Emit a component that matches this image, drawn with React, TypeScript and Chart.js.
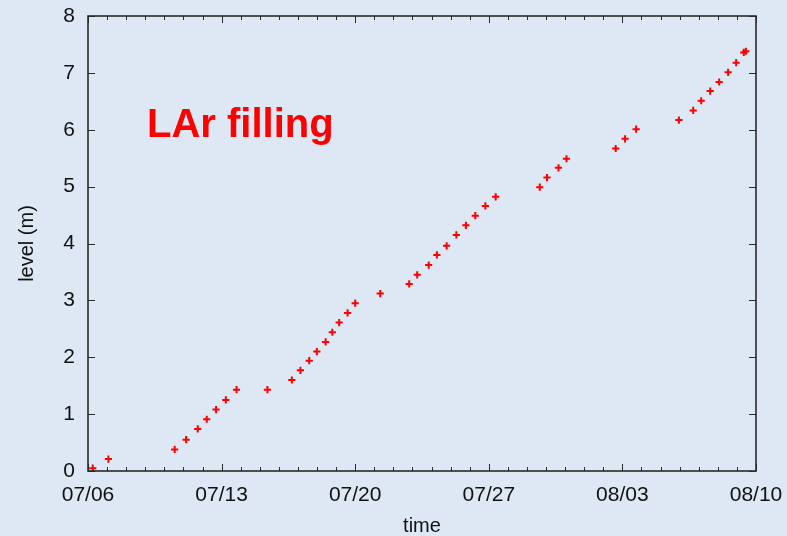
import React, { useEffect, useRef } from "react";
import { Chart, registerables } from "chart.js";

Chart.register(...registerables);

// Days elapsed since 07/06 00:00
const days = [0.25, 1.07, 4.54, 5.14, 5.75, 6.22, 6.71, 7.22, 7.78, 9.4, 10.68, 11.13, 11.59, 11.99, 12.45, 12.8, 13.16, 13.6, 14.0, 15.31, 16.83, 17.25, 17.85, 18.28, 18.79, 19.3, 19.8, 20.29, 20.82, 21.36, 23.67, 24.05, 24.65, 25.07, 27.65, 28.14, 28.72, 30.96, 31.71, 32.13, 32.6, 33.07, 33.54, 33.96, 34.36, 34.47];
// LAr level (m)
const levels = [0.05, 0.21, 0.38, 0.55, 0.74, 0.91, 1.08, 1.25, 1.43, 1.43, 1.6, 1.77, 1.94, 2.1, 2.27, 2.44, 2.61, 2.78, 2.95, 3.12, 3.29, 3.45, 3.62, 3.8, 3.96, 4.15, 4.32, 4.49, 4.66, 4.82, 4.99, 5.16, 5.33, 5.49, 5.67, 5.84, 6.01, 6.17, 6.34, 6.51, 6.68, 6.84, 7.01, 7.18, 7.36, 7.38];

const startDate = { year: 2000, month: 6, day: 6 }; // 07/06
const xMin = 0;
const xMax = 35;
const xMajorStep = 7;
const yMin = 0;
const yMax = 8;
const xTitle = "time";
const yTitle = "level (m)";
const annotationText = "LAr filling";

const BG = "rgb(221,232,244)";
const AXIS = "#2a2a2a";
const FONT = "'Liberation Sans', Arial, Helvetica, sans-serif";

function dayLabel(v: number): string {
  const d = new Date(startDate.year, startDate.month, startDate.day + v);
  const mm = String(d.getMonth() + 1).padStart(2, "0");
  const dd = String(d.getDate()).padStart(2, "0");
  return `${mm}/${dd}`;
}

const frameTicks = {
  id: "frameTicks",
  afterDraw(chart: any) {
    const { ctx, chartArea: a, scales } = chart;
    const xs = scales.x;
    const ys = scales.y;
    ctx.save();
    ctx.strokeStyle = AXIS;
    ctx.lineWidth = 1;
    for (let d = xMin; d <= xMax; d++) {
      const px = Math.round(xs.getPixelForValue(d)) + 0.5;
      const len = d % xMajorStep === 0 ? 7 : 4;
      ctx.beginPath();
      ctx.moveTo(px, a.bottom);
      ctx.lineTo(px, a.bottom - len);
      ctx.moveTo(px, a.top);
      ctx.lineTo(px, a.top + len);
      ctx.stroke();
    }
    for (let v = yMin; v <= yMax; v++) {
      const py = Math.round(ys.getPixelForValue(v)) + 0.5;
      ctx.beginPath();
      ctx.moveTo(a.left, py);
      ctx.lineTo(a.left + 7, py);
      ctx.moveTo(a.right, py);
      ctx.lineTo(a.right - 7, py);
      ctx.stroke();
    }
    ctx.lineWidth = 1.6;
    ctx.strokeRect(a.left, a.top, a.right - a.left, a.bottom - a.top);
    // annotation text
    ctx.fillStyle = "#ff0000";
    ctx.font = `bold 40px ${FONT}`;
    ctx.textBaseline = "alphabetic";
    ctx.textAlign = "left";
    ctx.fillText(annotationText, 147, 137);
    ctx.restore();
  },
};

export default function App() {
  const ref = useRef<HTMLCanvasElement | null>(null);
  useEffect(() => {
    if (!ref.current) return;
    const chart = new Chart(ref.current, {
      type: "scatter",
      data: {
        datasets: [
          {
            data: days.map((d, i) => ({ x: d, y: levels[i] })),
            pointStyle: "cross",
            pointRadius: 3.6,
            pointHoverRadius: 3.6,
            borderWidth: 2,
            borderColor: "#ff0000",
            backgroundColor: "#ff0000",
            clip: false as any,
          },
        ],
      },
      options: {
        animation: false,
        responsive: true,
        maintainAspectRatio: false,
        events: [],
        layout: { padding: { top: 16, right: 31, left: 0, bottom: 0 } },
        plugins: { legend: { display: false }, tooltip: { enabled: false } },
        scales: {
          x: {
            type: "linear",
            min: xMin,
            max: xMax,
            grid: { display: false, drawTicks: false },
            border: { display: false },
            ticks: {
              stepSize: xMajorStep,
              padding: 12,
              maxRotation: 0,
              autoSkip: false,
              color: "#111",
              font: { family: FONT, size: 21 },
              callback: (v: any) => dayLabel(Number(v)),
            },
            title: {
              display: true,
              text: xTitle,
              color: "#111",
              font: { family: FONT, size: 20, lineHeight: 1 },
              padding: { top: 0, bottom: 0 },
            },
            afterFit: (s: any) => {
              s.height = 65;
              s.paddingLeft = 0;
              s.paddingRight = 0;
            },
          },
          y: {
            min: yMin,
            max: yMax,
            grid: { display: false, drawTicks: false },
            border: { display: false },
            ticks: {
              stepSize: 1,
              padding: 13,
              color: "#111",
              font: { family: FONT, size: 21 },
            },
            title: {
              display: true,
              text: yTitle,
              color: "#111",
              font: { family: FONT, size: 20, lineHeight: 1.2 },
              padding: { top: 15, bottom: 0 },
            },
            afterFit: (s: any) => {
              s.width = 88;
              s.paddingTop = 0;
              s.paddingBottom = 0;
            },
          },
        },
      },
      plugins: [frameTicks],
    });
    return () => chart.destroy();
  }, []);
  return (
    <div style={{ position: "fixed", left: 0, top: 0, width: 787, height: 536, background: BG }}>
      <canvas ref={ref} />
    </div>
  );
}
